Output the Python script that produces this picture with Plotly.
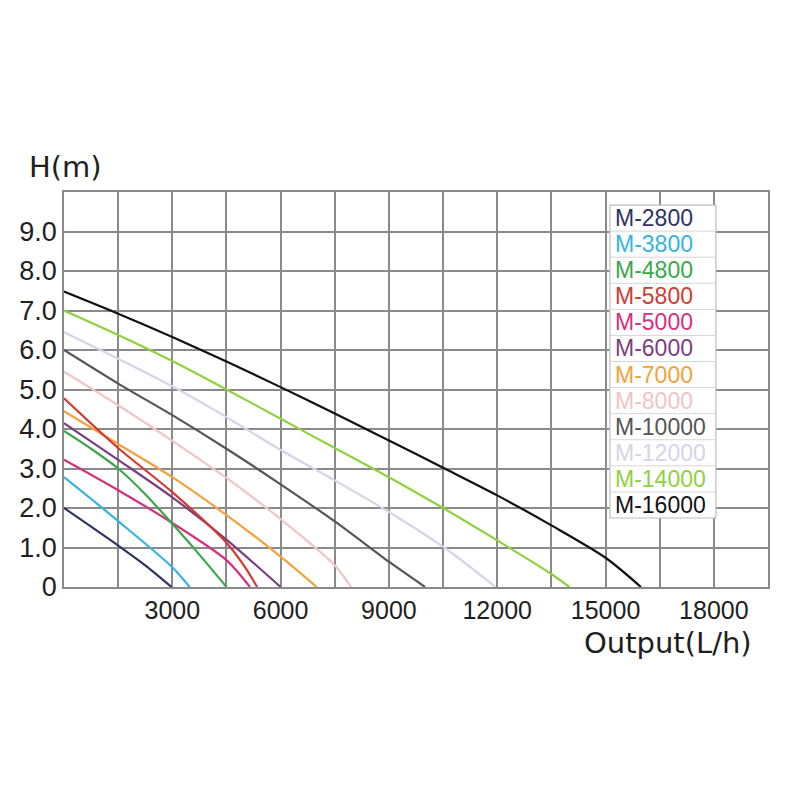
import plotly.graph_objects as go

# ---- data ----
models = ["M-2800", "M-3800", "M-4800", "M-5800", "M-5000", "M-6000",
          "M-7000", "M-8000", "M-10000", "M-12000", "M-14000", "M-16000"]
colors = ["#2e3366", "#33b5e0", "#3aa84a", "#d23a32", "#d6307e", "#7a3f80",
          "#f2a23a", "#f2c4c4", "#555555", "#d4d4ea", "#8ed23e", "#111111"]

q_2800 = [0, 1500, 2250, 2980]
h_2800 = [2.0, 1.05, 0.55, 0]
q_3800 = [0, 1500, 3000, 3480]
h_3800 = [2.78, 1.67, 0.5, 0]
q_4800 = [0, 750, 1500, 2250, 3000, 3750, 4500]
h_4800 = [3.95, 3.5, 3.0, 2.35, 1.6, 0.82, 0]
q_5800 = [0, 1500, 3000, 4500, 5000, 5350]
h_5800 = [4.78, 3.52, 2.4, 1.12, 0.52, 0]
q_5000 = [0, 1500, 3000, 4500, 5150]
h_5000 = [3.22, 2.45, 1.62, 0.68, 0]
q_6000 = [0, 1500, 3000, 4500, 6000]
h_6000 = [4.15, 3.22, 2.27, 1.2, 0]
q_7000 = [0, 1500, 3000, 4500, 6000, 7000]
h_7000 = [4.45, 3.62, 2.78, 1.82, 0.77, 0]
q_8000 = [0, 1500, 3000, 4500, 6000, 7500, 7950]
h_8000 = [5.45, 4.6, 3.7, 2.76, 1.72, 0.55, 0]
q_10000 = [0, 1500, 3000, 4500, 6000, 7500, 9000, 10000]
h_10000 = [6.0, 5.15, 4.35, 3.5, 2.6, 1.66, 0.64, 0]
q_12000 = [0, 1500, 3000, 4500, 6000, 7500, 9000, 10500, 11950]
h_12000 = [6.45, 5.78, 5.08, 4.3, 3.47, 2.7, 1.9, 1.02, 0]
q_14000 = [0, 1500, 3000, 4500, 6000, 7500, 9000, 10500, 12000, 13500, 14000]
h_14000 = [7.0, 6.38, 5.72, 5.0, 4.26, 3.52, 2.78, 2.0, 1.18, 0.33, 0]
q_16000 = [0, 1500, 3000, 4500, 6000, 7500, 9000, 10500, 12000, 13500, 15000, 15980]
h_16000 = [7.48, 6.92, 6.33, 5.71, 5.06, 4.39, 3.71, 3.02, 2.32, 1.56, 0.74, 0]

flows = [q_2800, q_3800, q_4800, q_5800, q_5000, q_6000,
         q_7000, q_8000, q_10000, q_12000, q_14000, q_16000]
heads = [h_2800, h_3800, h_4800, h_5800, h_5000, h_6000,
         h_7000, h_8000, h_10000, h_12000, h_14000, h_16000]

x_tickvals = [0, 1500, 3000, 4500, 6000, 7500, 9000, 10500, 12000, 13500, 15000, 16500, 18000, 19500]
x_ticktext = ["", "", "3000", "", "6000", "", "9000", "", "12000", "", "15000", "", "18000", ""]
y_tickvals = [0, 1, 2, 3, 4, 5, 6, 7, 8, 9, 10]
y_ticktext = ["0", "1.0", "2.0", "3.0", "4.0", "5.0", "6.0", "7.0", "8.0", "9.0", ""]

# ---- figure ----
fig = go.Figure()
for i in range(len(models) - 1, -1, -1):
    fig.add_trace(go.Scatter(
        x=flows[i], y=heads[i], mode="lines", name=models[i],
        line=dict(color=colors[i], width=2.2, shape="spline", smoothing=0.8),
        showlegend=False, hoverinfo="skip"))

grid = "#8a8a8a"
fig.update_xaxes(range=[0, 19500], tickvals=x_tickvals, ticktext=x_ticktext,
                 showgrid=True, gridcolor=grid, gridwidth=1.6,
                 showline=True, linecolor=grid, linewidth=1.6, mirror=True,
                 zeroline=False, ticks="", ticklabelstandoff=0,
                 tickfont=dict(family="Liberation Sans", size=25, color="#1e1e1e"))
fig.update_yaxes(range=[0, 10], tickvals=y_tickvals, ticktext=y_ticktext,
                 showgrid=True, gridcolor=grid, gridwidth=1.6,
                 showline=True, linecolor=grid, linewidth=1.6, mirror=True,
                 zeroline=False, ticks="", ticklabelstandoff=0,
                 tickfont=dict(family="Liberation Sans", size=27, color="#1e1e1e"))

# legend box as a table
x0p, x1p = 0.7754, 0.926
top_p, bot_p = 0.967, 0.1747
shapes = [dict(type="rect", xref="paper", yref="paper", x0=x0p, x1=x1p,
               y0=bot_p, y1=top_p, fillcolor="white",
               line=dict(color="#bdbdbd", width=1.2), layer="above")]
n = len(models)
step = (top_p - bot_p) / n
for k in range(1, n):
    yy = top_p - k * step
    shapes.append(dict(type="line", xref="paper", yref="paper", x0=x0p, x1=x1p,
                       y0=yy, y1=yy, line=dict(color="#d6d6d6", width=1), layer="above"))
annotations = []
for k in range(n):
    yc = top_p - (k + 0.5) * step
    annotations.append(dict(xref="paper", yref="paper", x=x0p + 0.004, y=yc,
                            xanchor="left", yanchor="middle", showarrow=False,
                            text=models[k],
                            font=dict(family="Liberation Sans", size=23, color=colors[k])))

annotations.append(dict(xref="paper", yref="paper", x=-0.052, y=1.0, xanchor="left",
                        yanchor="bottom", yshift=6, showarrow=False, text="H(m)",
                        font=dict(family="DejaVu Sans", size=29, color="#1e1e1e")))
annotations.append(dict(xref="paper", yref="paper", x=0.98, y=0, xanchor="right",
                        yanchor="top", yshift=-37, showarrow=False, text="Output(L/h)",
                        font=dict(family="DejaVu Sans", size=29, color="#1e1e1e")))

fig.update_layout(width=800, height=800, margin=dict(l=64, r=32, t=192, b=213),
                  paper_bgcolor="white", plot_bgcolor="white",
                  shapes=shapes, annotations=annotations)

fig.write_html("out.html")
